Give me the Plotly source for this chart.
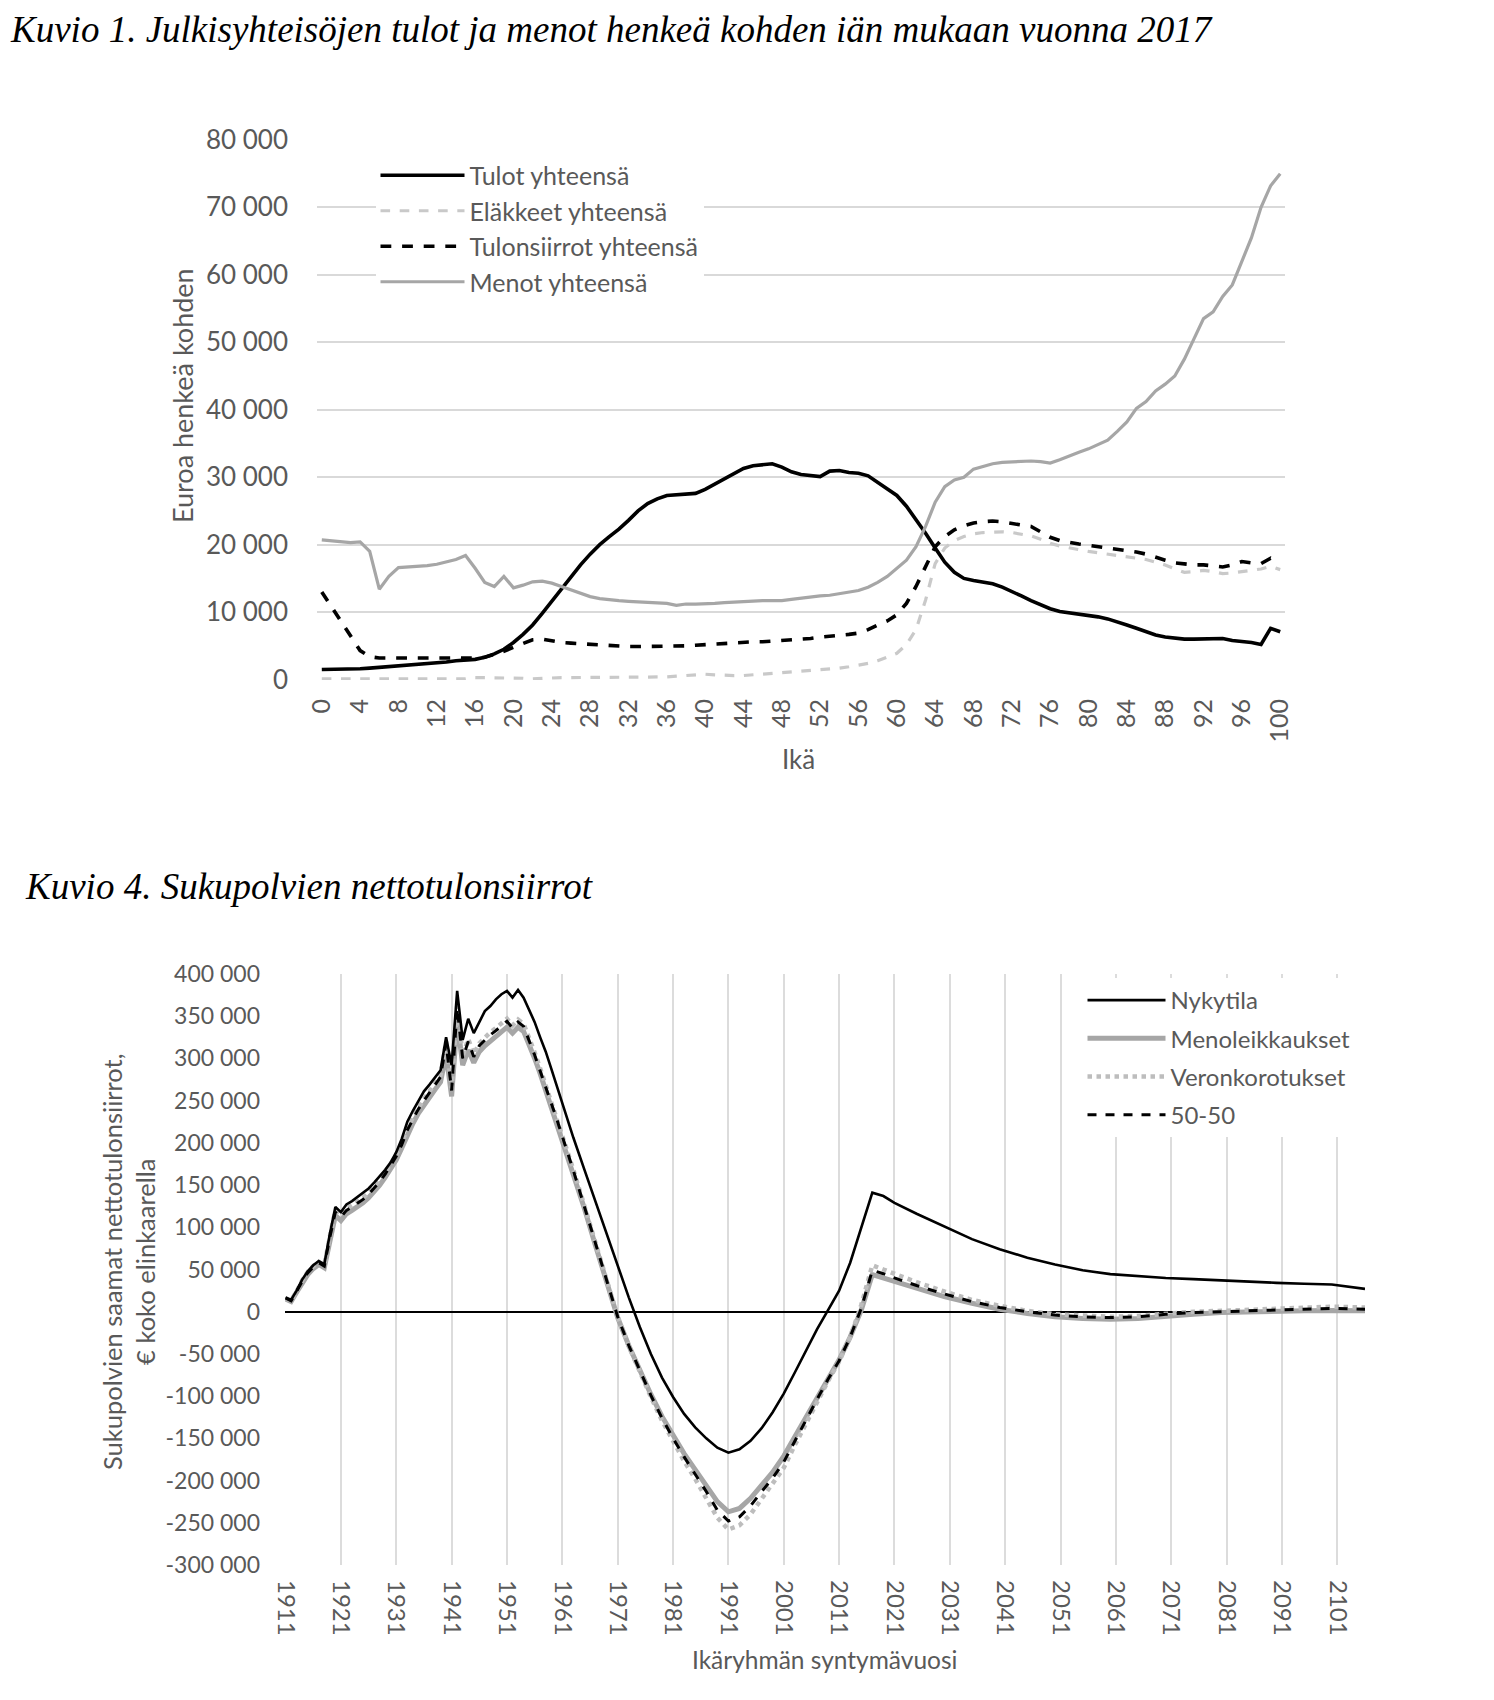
import plotly.graph_objects as go

# ---------------- Kuvio 1 data (age 0..100) ----------------
ages = list(range(0, 101))
tulot = [1500, 1500, 1500, 1500, 1600, 1700, 1800, 1900, 2000, 2200,
         2300, 2400, 2500, 2600, 2800, 2900, 3000, 3300, 3800, 4500,
         5500, 6700, 8100, 9800, 11600, 13400, 15300, 17000, 18600, 20000,
         21200, 22300, 23600, 25000, 26100, 26800, 27300, 27400, 27400, 27600,
         28200, 29000, 29700, 30500, 31300, 31700, 31900, 32000, 31500, 30800,
         30400, 30200, 30100, 30900, 31000, 30700, 30600, 30200, 29200, 28200,
         27300, 25700, 23800, 21700, 19500, 17400, 15900, 15000, 14700, 14500,
         14200, 13700, 13100, 12400, 11700, 11100, 10500, 10100, 9900, 9700,
         9600, 9300, 9000, 8600, 8100, 7600, 7100, 6600, 6300, 6100,
         6000, 6000, 6000, 6000, 6100, 5800, 5700, 5500, 5200, 7600,
         7100]
elakkeet = [100, 100, 100, 100, 100, 100, 100, 100, 100, 100,
            100, 100, 100, 100, 100, 100, 300, 300, 300, 300,
            300, 200, 100, 200, 300, 300, 300, 300, 300, 300,
            300, 300, 300, 300, 300, 300, 400, 500, 600, 700,
            800, 700, 600, 600, 600, 700, 800, 900, 1000, 1100,
            1200, 1300, 1400, 1500, 1700, 1900, 2100, 2400, 2800, 3300,
            3900, 5200, 7400, 11800, 17200, 19500, 20600, 21200, 21600, 21800,
            21900, 21900, 21800, 21600, 21300, 20800, 20200, 19800, 19500, 19200,
            19000, 18800, 18600, 18400, 18200, 18000, 17800, 17400, 17000, 16400,
            15900, 16000, 16200, 16000, 15700, 15800, 16000, 16200, 16400, 16800,
            16300]
tulonsiirrot = [13000, 10800, 8500, 6300, 4300, 3400, 3200, 3200, 3200, 3200,
                3200, 3200, 3100, 3100, 3100, 3100, 3200, 3300, 3700, 4200,
                4800, 5400, 5900, 6000, 5700, 5500, 5400, 5300, 5200, 5100,
                5000, 5000, 4900, 4900, 4900, 4900, 4900, 4900, 5000, 5100,
                5200, 5300, 5400, 5400, 5500, 5600, 5600, 5700, 5700, 5800,
                6000, 6100, 6300, 6400, 6500, 6700, 6900, 7400, 8100, 8700,
                9600, 11300, 13800, 16700, 19700, 21200, 22200, 22800, 23200, 23400,
                23500, 23400, 23100, 22900, 22700, 21900, 21100, 20600, 20300, 20100,
                19900, 19700, 19600, 19300, 19100, 18900, 18600, 18100, 17700, 17300,
                17100, 17000, 17000, 16800, 16700, 17000, 17500, 17300, 17200, 18000,
                17300]
menot = [20700, 20600, 20400, 20300, 20400, 19000, 13400, 15300, 16600, 16700,
         16700, 16900, 17100, 17400, 17800, 18400, 16500, 14400, 13800, 15300,
         13600, 14000, 14500, 14600, 14300, 13800, 13300, 12800, 12300, 12000,
         11800, 11700, 11600, 11500, 11500, 11400, 11300, 11000, 11200, 11200,
         11200, 11300, 11400, 11500, 11600, 11700, 11700, 11700, 11700, 11900,
         12100, 12200, 12400, 12500, 12700, 12900, 13200, 13700, 14400, 15300,
         16500, 17700, 19700, 22700, 26300, 28600, 29600, 30000, 31200, 31600,
         32000, 32200, 32300, 32400, 32400, 32300, 32100, 32600, 33200, 33700,
         34200, 34800, 35500, 36800, 38200, 40200, 41200, 42800, 43800, 45000,
         47500, 50500, 53500, 54500, 56800, 58500, 62000, 65500, 70000, 73200,
         75000]

top_yticks = [0, 10000, 20000, 30000, 40000, 50000, 60000, 70000, 80000]
top_ytext = ["0", "10 000", "20 000", "30 000", "40 000", "50 000", "60 000", "70 000", "80 000"]
top_xticks = list(range(0, 101, 4))
top_xtext = [str(v) for v in top_xticks]

# ---------------- Kuvio 4 data (birth year) ----------------
years = (list(range(1911, 1962)) + list(range(1963, 2018, 2)) +
         [2019, 2021, 2025, 2030, 2035, 2040, 2045, 2050, 2055, 2060,
          2065, 2070, 2075, 2080, 2085, 2090, 2095, 2100, 2106])
nykytila = [17000, 14000, 25000, 38000, 48000, 55000, 60000, 56000, 92000, 124000,
            118000, 127000, 131000, 136000, 141000, 146000, 153000, 160000, 168000, 177000,
            189000, 205000, 225000, 238000, 250000, 261000, 269000, 278000, 286000, 325000,
            292000, 380000, 322000, 347000, 330000, 343000, 356000, 362000, 370000, 376000,
            380000, 372000, 381000, 372000, 358000, 343000, 325000, 308000, 288000, 267000,
            246000,
            206000, 168000, 130000, 92000, 53000, 17000, -18000, -50000, -78000, -101000,
            -121000, -137000, -150000, -161000, -167000, -163000, -153000, -138000, -119000, -97000,
            -72000, -46000, -21000, 2000, 25000, 58000, 99000, 141000,
            137000, 129000, 116000, 101000, 86000, 74000, 64000, 56000, 49000, 44500,
            42000, 40000, 38600, 37000, 35600, 34200, 33200, 32200, 27000]
menoleikkaukset = [15000, 12000, 23000, 35000, 44000, 51000, 56000, 52000, 85000, 114000,
                   108000, 116000, 120000, 124000, 129000, 135000, 142000, 150000, 159000, 169000,
                   180000, 194000, 210000, 223000, 235000, 245000, 254000, 263000, 272000, 305000,
                   255000, 345000, 292000, 310000, 295000, 308000, 315000, 321000, 326000, 331000,
                   337000, 330000, 337000, 332000, 317000, 300000, 282000, 262000, 244000, 225000,
                   206000,
                   165000, 122000, 78000, 35000, -7000, -40000, -70000, -98000, -124000, -147000,
                   -168000, -187000, -206000, -225000, -237000, -233000, -221000, -205000, -190000, -171000,
                   -148000, -124000, -101000, -78000, -57000, -30000, 2000, 44000,
                   40000, 35000, 27000, 18000, 10000, 3000, -2000, -6000, -8000, -9000,
                   -8000, -5000, -3000, -1000, 0, 1000, 1000, 1500, 1000]
veronkorotukset = [16000, 13000, 24000, 37000, 47000, 54000, 59000, 55000, 89000, 120000,
                   114000, 122000, 126000, 130000, 135000, 141000, 148000, 156000, 165000, 175000,
                   186000, 200000, 217000, 230000, 242000, 252000, 261000, 270000, 280000, 320000,
                   265000, 362000, 303000, 323000, 305000, 318000, 325000, 331000, 336000, 341000,
                   347000, 339000, 346000, 341000, 325000, 307000, 288000, 268000, 249000, 230000,
                   210000,
                   168000, 125000, 81000, 38000, -6000, -41000, -72000, -101000, -129000, -154000,
                   -177000, -198000, -221000, -244000, -258000, -253000, -240000, -222000, -205000, -185000,
                   -158000, -132000, -107000, -82000, -59000, -30000, 8000, 55000,
                   50000, 45000, 35000, 24000, 14000, 7000, 1000, -3000, -5000, -6000,
                   -5000, -2000, 0, 1000, 2000, 4000, 5000, 6000, 5000]
fifty_fifty = [16000, 13000, 24000, 36000, 46000, 53000, 58000, 54000, 88000, 118000,
               112000, 120000, 124000, 128000, 133000, 139000, 146000, 154000, 163000, 173000,
               184000, 198000, 215000, 228000, 240000, 250000, 259000, 268000, 278000, 318000,
               262000, 360000, 300000, 320000, 302000, 315000, 322000, 328000, 333000, 338000,
               344000, 336000, 343000, 338000, 322000, 304000, 285000, 265000, 247000, 228000,
               208000,
               167000, 124000, 80000, 37000, -6000, -40000, -70000, -99000, -126000, -150000,
               -172000, -192000, -213000, -235000, -248000, -243000, -230000, -213000, -197000, -178000,
               -153000, -128000, -104000, -80000, -58000, -30000, 4000, 49000,
               45000, 40000, 31000, 21000, 12000, 5000, 0, -4000, -6000, -7000,
               -6000, -3000, -1000, 0, 1000, 2000, 3000, 4000, 3000]

bot_yticks = list(range(-300000, 400001, 50000))
bot_ytext = ["-300 000", "-250 000", "-200 000", "-150 000", "-100 000", "-50 000", "0",
             "50 000", "100 000", "150 000", "200 000", "250 000", "300 000", "350 000", "400 000"]
bot_xticks = list(range(1911, 2102, 10))
bot_xtext = [str(v) for v in bot_xticks]

W, H = 1494, 1700
OFF = 8  # page body margin of the exported html
GRAY_TXT = "#595959"
FONT = "Lato, 'Open Sans', sans-serif"
SERIF = "'Liberation Serif', 'DejaVu Serif', serif"

fig = go.Figure()

# top chart traces
fig.add_trace(go.Scatter(x=ages, y=tulot, mode="lines", name="Tulot yhteensä",
                         line=dict(color="black", width=3.6), legend="legend",
                         xaxis="x", yaxis="y"))
fig.add_trace(go.Scatter(x=ages, y=elakkeet, mode="lines", name="Eläkkeet yhteensä",
                         line=dict(color="#c9c9c9", width=3.2, dash="dash"), legend="legend",
                         xaxis="x", yaxis="y"))
fig.add_trace(go.Scatter(x=ages, y=tulonsiirrot, mode="lines", name="Tulonsiirrot yhteensä",
                         line=dict(color="black", width=3.6, dash="dash"), legend="legend",
                         xaxis="x", yaxis="y"))
fig.add_trace(go.Scatter(x=ages, y=menot, mode="lines", name="Menot yhteensä",
                         line=dict(color="#a6a6a6", width=3.2), legend="legend",
                         xaxis="x", yaxis="y"))

# bottom chart traces (drawing order: gray under, black on top)
fig.add_trace(go.Scatter(x=years, y=menoleikkaukset, mode="lines", name="Menoleikkaukset",
                         line=dict(color="#a6a6a6", width=5), legend="legend2", legendgroup="m",
                         xaxis="x2", yaxis="y2", legendrank=2))
fig.add_trace(go.Scatter(x=years, y=veronkorotukset, mode="lines", name="Veronkorotukset",
                         line=dict(color="#bdbdbd", width=4.5, dash="dot"), legend="legend2",
                         legendgroup="v", xaxis="x2", yaxis="y2", legendrank=3))
fig.add_trace(go.Scatter(x=years, y=fifty_fifty, mode="lines", name="50-50",
                         line=dict(color="black", width=3, dash="dash"), legend="legend2",
                         legendgroup="f", xaxis="x2", yaxis="y2", legendrank=4))
fig.add_trace(go.Scatter(x=years, y=nykytila, mode="lines", name="Nykytila",
                         line=dict(color="black", width=2.6), legend="legend2", legendgroup="n",
                         xaxis="x2", yaxis="y2", legendrank=1))


def px_x(v):
    return (v - OFF) / W


def px_y(v):
    return 1 - (v - OFF) / H


fig.update_layout(
    template="none",
    width=W, height=H,
    margin=dict(l=0, r=0, t=0, b=0, pad=0, autoexpand=False),
    paper_bgcolor="white", plot_bgcolor="white",
    font=dict(family=FONT, color=GRAY_TXT),
    xaxis=dict(domain=[px_x(317), px_x(1285)], range=[-0.5, 100.5], anchor="y",
               tickmode="array", tickvals=top_xticks, ticktext=top_xtext, tickangle=-90,
               showgrid=False, zeroline=False, showline=False, ticks="", automargin=False,
               tickfont=dict(size=25, color=GRAY_TXT, family=FONT), ticklabelstandoff=13),
    yaxis=dict(domain=[px_y(680), px_y(139.5)], range=[-60, 80060], anchor="x",
               tickmode="array", tickvals=top_yticks, ticktext=top_ytext, automargin=False,
               showgrid=True, gridcolor="#d9d9d9", gridwidth=2, zeroline=False, showline=False,
               ticks="", tickfont=dict(size=26, color=GRAY_TXT, family=FONT), ticklabelstandoff=28),
    xaxis2=dict(domain=[px_x(285), px_x(1365)], range=[1910.9, 2106], anchor="y2",
                tickmode="array", tickvals=bot_xticks, ticktext=bot_xtext, tickangle=90,
                showgrid=True, gridcolor="#dcdcdc", gridwidth=2, zeroline=False, showline=False,
                ticks="", automargin=False,
                tickfont=dict(size=24, color=GRAY_TXT, family=FONT), ticklabelstandoff=14),
    yaxis2=dict(domain=[px_y(1565), px_y(974)], range=[-300000, 400000], anchor="x2",
                tickmode="array", tickvals=bot_yticks, ticktext=bot_ytext, automargin=False,
                showgrid=False, zeroline=True, zerolinecolor="black", zerolinewidth=2.2,
                showline=False, ticks="", tickfont=dict(size=23, color=GRAY_TXT, family=FONT),
                ticklabelstandoff=24),
    legend=dict(x=px_x(375.5), y=px_y(152.5), xanchor="left", yanchor="top",
                bgcolor="white", borderwidth=0, font=dict(size=25, color=GRAY_TXT, family=FONT),
                itemwidth=84, tracegroupgap=0, traceorder="normal"),
    legend2=dict(x=px_x(1082.5), y=px_y(978), xanchor="left", yanchor="top",
                 bgcolor="white", borderwidth=0, font=dict(size=24, color=GRAY_TXT, family=FONT),
                 itemwidth=78, tracegroupgap=4, traceorder="grouped"),
    showlegend=True,
)

annotations = [
    dict(text="<i>Kuvio 1. Julkisyhteisöjen tulot ja menot henkeä kohden iän mukaan vuonna 2017</i>",
         x=px_x(8), y=px_y(30), xanchor="left", yanchor="middle",
         font=dict(family=SERIF, size=37, color="black")),
    dict(text="<i>Kuvio 4. Sukupolvien nettotulonsiirrot</i>",
         x=px_x(23), y=px_y(886), xanchor="left", yanchor="middle",
         font=dict(family=SERIF, size=37, color="black")),
    dict(text="Euroa henkeä kohden", x=px_x(182), y=px_y(396), xanchor="center", yanchor="middle",
         textangle=-90, font=dict(size=27, color=GRAY_TXT, family=FONT)),
    dict(text="Ikä", x=px_x(798), y=px_y(759), xanchor="center", yanchor="middle",
         font=dict(size=26, color=GRAY_TXT, family=FONT)),
    dict(text="Sukupolvien saamat nettotulonsiirrot,<br>€ koko elinkaarella",
         x=px_x(128), y=px_y(1262), xanchor="center", yanchor="middle",
         textangle=-90, font=dict(size=25.5, color=GRAY_TXT, family=FONT)),
    dict(text="Ikäryhmän syntymävuosi", x=px_x(824), y=px_y(1659), xanchor="center", yanchor="middle",
         font=dict(size=24.5, color=GRAY_TXT, family=FONT)),
]
for a in annotations:
    a.update(xref="paper", yref="paper", showarrow=False)
fig.update_layout(annotations=annotations)

fig.write_html("out.html")
